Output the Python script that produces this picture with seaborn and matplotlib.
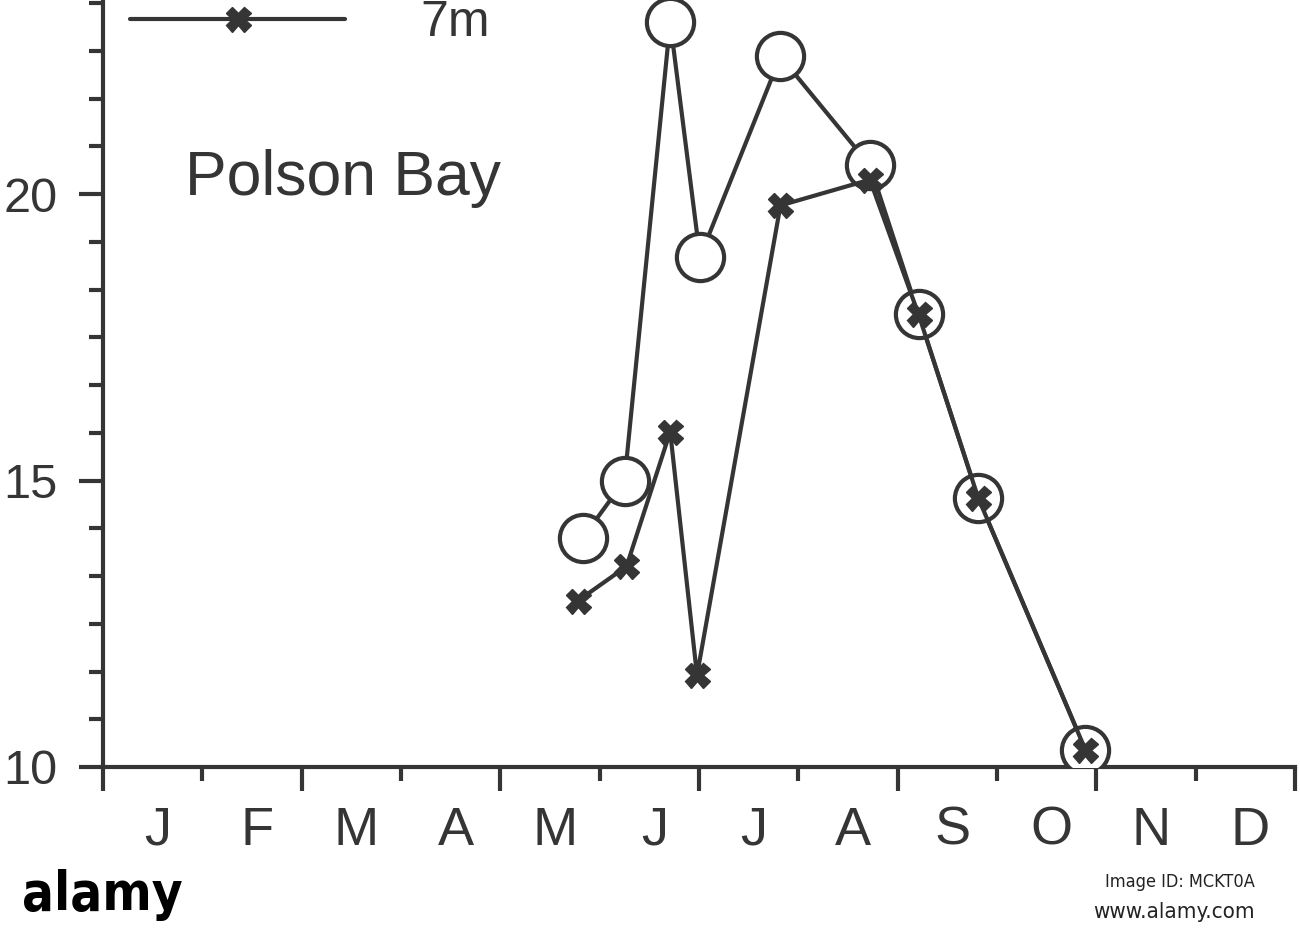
import numpy as np
import pandas as pd
import seaborn as sns
import matplotlib
matplotlib.use("Agg")
import matplotlib.pyplot as plt
from matplotlib.ticker import FixedLocator, MultipleLocator

# # Data

months = ["J", "F", "M", "A", "M", "J", "J", "A", "S", "O", "N", "D"]

# surface series (open circles)
x_top = [4.83, 5.25, 5.71, 6.01, 6.82, 7.72, 8.21, 8.81, 9.89]
t_top = [14.0, 15.0, 23.0, 18.9, 22.4, 20.5, 17.9, 14.7, 10.3]

# 7 m series (crosses)
x_7m = [4.78, 5.27, 5.71, 5.98, 6.82, 7.72, 8.21, 8.81, 9.89]
t_7m = [12.9, 13.5, 15.85, 11.6, 19.8, 20.25, 17.9, 14.7, 10.3]

top_label = "1m"
deep_label = "7m"
site = "Polson Bay"

# # Style

sns.set_style("ticks")
plt.rcParams['font.family'] = ['Liberation Sans', 'DejaVu Sans']
ink = "#353535"

fig = plt.figure(figsize=(13, 9.44), dpi=100)
ax = fig.add_axes([103/1300, 177/944, 1192/1300, 14*57.3/944])

df_top = pd.DataFrame({'month': x_top, 'temp': t_top})
df_7m = pd.DataFrame({'month': x_7m, 'temp': t_7m})

sns.lineplot(data=df_top, x='month', y='temp', sort=False, estimator=None,
             color=ink, lw=3, marker='o', markersize=34, mfc='white',
             mec=ink, mew=3, ax=ax, label=top_label, zorder=3)
sns.lineplot(data=df_7m, x='month', y='temp', sort=False, estimator=None,
             color=ink, lw=3, marker='X', markersize=18, mfc=ink,
             mec=ink, mew=1, ax=ax, label=deep_label, zorder=4)

ax.set_xlim(0, 12)
ax.set_ylim(10, 24)

# axes / ticks
for side in ['top', 'right']:
    ax.spines[side].set_visible(False)
for side in ['left', 'bottom']:
    ax.spines[side].set_linewidth(3)
    ax.spines[side].set_color(ink)

ax.xaxis.set_major_locator(MultipleLocator(2))
ax.xaxis.set_minor_locator(FixedLocator(np.arange(1, 12, 2)))
ax.set_xticklabels([])
ax.yaxis.set_major_locator(FixedLocator([10, 15, 20]))
ax.yaxis.set_minor_locator(FixedLocator(10 + np.arange(0, 17) * 5 / 6))
ax.set_yticklabels(["10", "15", "20"])
ax.tick_params(which='major', length=17, width=3, color=ink,
               labelsize=35, labelcolor=ink, pad=16)
ax.tick_params(which='minor', length=10, width=3, color=ink)
ax.set_xlabel("")
ax.set_ylabel("")

# month letters centred between ticks
for i, m in enumerate(months):
    ax.text(i + 0.55, -0.048, m, transform=ax.get_xaxis_transform(),
            ha='center', va='top', fontsize=39, color=ink)

ax.text(0.0688, 0.713, site, transform=ax.transAxes, ha='left',
        va='baseline', fontsize=45, color=ink)

h, l = ax.get_legend_handles_labels()
ax.legend(h, l, loc='lower left', bbox_to_anchor=(130/1300, 1 - 46/944),
          bbox_transform=fig.transFigure, frameon=False, fontsize=36,
          handlelength=4.3, handletextpad=1.5, borderpad=0,
          borderaxespad=0, labelspacing=0.6, numpoints=1,
          labelcolor=ink)

# stock-photo footer strip
fig.text(22/1300, 1 - 895/944, "alamy", ha='left', va='center',
         fontsize=38, fontweight='bold', fontstretch='condensed',
         color='black', family=['DejaVu Sans'])
fig.text(1255/1300, 1 - 882/944, "Image ID: MCKT0A", ha='right',
         va='center', fontsize=13, color='#222222',
         fontstretch='condensed', family=['DejaVu Sans'])
fig.text(1255/1300, 1 - 912/944, "www.alamy.com", ha='right',
         va='center', fontsize=16, color='#222222',
         fontstretch='condensed', family=['DejaVu Sans'])

fig.savefig("out.png", dpi=100)
